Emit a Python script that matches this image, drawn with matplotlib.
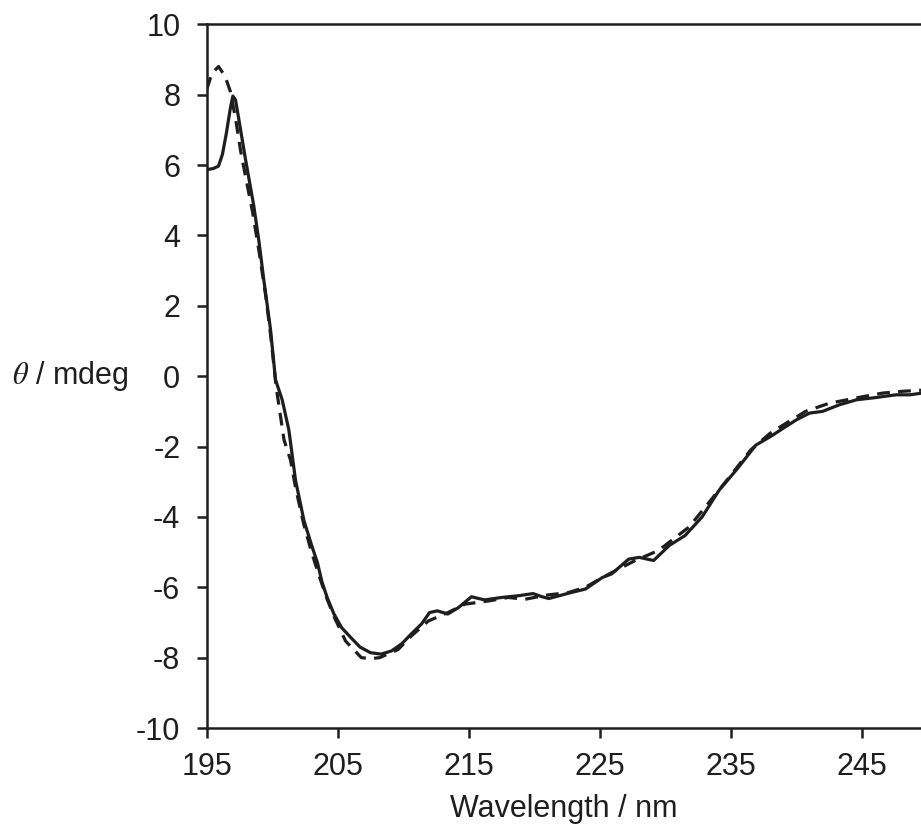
import matplotlib.pyplot as plt
import numpy as np

plt.rcParams['font.family'] = ['Liberation Sans', 'DejaVu Sans']
plt.rcParams['mathtext.fontset'] = 'stix'
plt.rcParams['axes.unicode_minus'] = False

# solid trace (wavelength in nm, ellipticity in mdeg)
solid_wl = [195.0, 195.5, 195.9, 196.2, 196.5, 196.8, 197.0, 197.2, 197.44, 197.95,
            198.59, 199.0, 199.35, 199.87, 200.25, 200.76, 201.27, 201.78, 202.42, 203.0,
            203.45, 203.8, 204.2, 204.7, 205.3, 206.0, 206.7, 207.5, 208.3, 209.1,
            209.9, 210.6, 211.4, 212.0, 212.6, 213.4, 214.2, 215.2, 216.2, 217.5,
            218.8, 219.9, 220.6, 221.1, 222.6, 223.9, 225.2, 225.9, 227.2, 228.0,
            229.1, 230.3, 231.5, 232.8, 234.1, 235.4, 236.9, 238.0, 239.2, 240.0,
            241.0, 242.0, 243.3, 244.6, 245.8, 246.6, 247.6, 248.65, 250.0]
solid_mdeg = [5.87, 5.9, 5.97, 6.3, 6.9, 7.6, 7.96, 7.85, 7.33, 6.19,
              4.85, 3.8, 2.76, 1.33, -0.1, -0.67, -1.53, -2.96, -4.1, -4.8,
              -5.3, -5.85, -6.3, -6.75, -7.15, -7.43, -7.7, -7.86, -7.9, -7.81,
              -7.6, -7.33, -7.04, -6.72, -6.67, -6.76, -6.58, -6.27, -6.36, -6.29,
              -6.24, -6.18, -6.27, -6.32, -6.17, -6.05, -5.72, -5.62, -5.2, -5.15,
              -5.24, -4.81, -4.53, -4.0, -3.24, -2.67, -1.96, -1.72, -1.43, -1.24,
              -1.05, -1.0, -0.81, -0.67, -0.62, -0.58, -0.53, -0.53, -0.46]

# dashed trace
dash_wl = [195.0, 195.4, 195.9, 196.4, 196.8, 197.2, 197.6, 198.1, 198.5, 199.0,
           199.5, 199.9, 200.3, 200.9, 201.4, 201.8, 202.4, 203.0, 203.6, 204.2,
           204.8, 205.6, 206.8, 207.5, 208.2, 209.6, 210.6, 211.9, 213.4, 214.7,
           216.5, 218.0, 219.3, 221.0, 222.6, 223.9, 225.3, 226.7, 227.7, 229.5,
           230.7, 231.8, 233.3, 234.9, 236.5, 238.0, 239.2, 240.7, 242.5, 245.1,
           246.6, 248.1, 250.0]
dash_mdeg = [8.15, 8.6, 8.8, 8.53, 8.1, 7.33, 6.38, 5.42, 4.67, 3.53,
             2.3, 1.1, -0.3, -1.81, -2.39, -3.2, -4.2, -5.0, -5.7, -6.35,
             -6.9, -7.53, -8.0, -8.03, -8.0, -7.77, -7.39, -6.96, -6.72, -6.48,
             -6.39, -6.29, -6.34, -6.22, -6.15, -6.0, -5.7, -5.43, -5.24, -4.95,
             -4.6, -4.29, -3.6, -2.86, -2.1, -1.62, -1.34, -1.0, -0.77, -0.58,
             -0.48, -0.43, -0.39]

x_ticks = [195, 205, 215, 225, 235, 245]
y_ticks = np.arange(-10, 11, 2)

fig = plt.figure(figsize=(9.21, 8.24), dpi=100)
ax = fig.add_axes([0.2244, 0.1165, 0.7756, 0.854])

ink = '#1e1e1e'
ax.plot(solid_wl, solid_mdeg, color=ink, lw=2.3, solid_joinstyle='round')
ax.plot(dash_wl, dash_mdeg, color=ink, lw=2.3, dashes=(4.0, 2.6))

ax.set_xlim(195, 249.5)
ax.set_ylim(-10, 10)
ax.set_xticks(x_ticks)
ax.set_yticks(y_ticks)
ax.tick_params(direction='out', length=7, width=1.8, labelsize=22, colors=ink)
ax.tick_params(axis='x', pad=10)
ax.tick_params(axis='y', pad=12)
for side in ['left', 'bottom', 'top']:
    ax.spines[side].set_linewidth(1.8)
    ax.spines[side].set_color(ink)
ax.spines['right'].set_visible(False)

ax.set_xlabel('Wavelength / nm', fontsize=22, color=ink, labelpad=9)
ax.set_ylabel(r'$\theta$ / mdeg', fontsize=22, color=ink, rotation=0,
              ha='right', va='center')
ax.yaxis.set_label_coords(-0.110, 0.5)

fig.savefig('out.png', dpi=100)
